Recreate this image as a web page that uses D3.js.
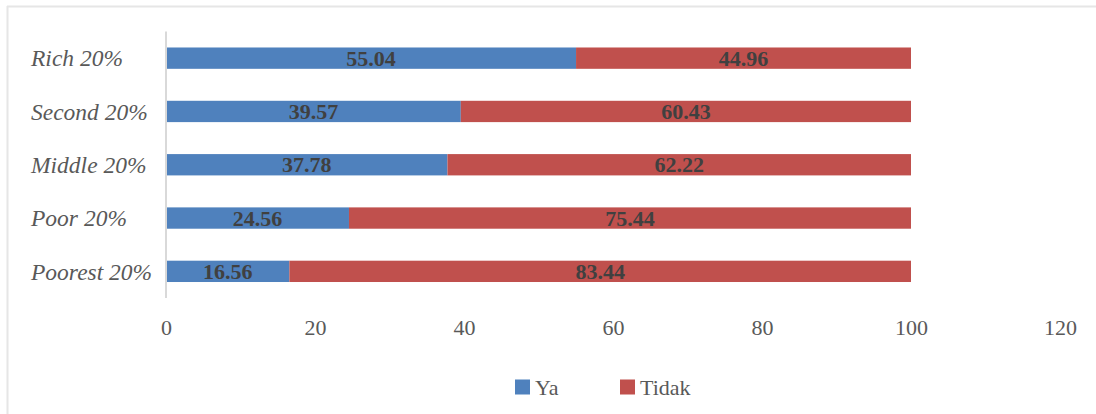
<!DOCTYPE html>
<html>
<head>
<meta charset="utf-8">
<script src="https://cdn.jsdelivr.net/npm/d3@7"></script>
<style>
  html, body { margin: 0; padding: 0; background: #fff; }
  svg { display: block; }
</style>
</head>
<body>
<svg id="chart" width="1096" height="414"></svg>
<script>
// Quintile groups, top to bottom
const categories = ["Rich 20%", "Second 20%", "Middle 20%", "Poor 20%", "Poorest 20%"];
const yaValues = [55.04, 39.57, 37.78, 24.56, 16.56];
const tidakValues = [44.96, 60.43, 62.22, 75.44, 83.44];
const seriesNames = ["Ya", "Tidak"];
const seriesColors = ["#4f81bd", "#c0504d"];
const xTicks = [0, 20, 40, 60, 80, 100, 120];

const serif = "'Liberation Serif', 'Times New Roman', serif";
const svg = d3.select("#chart");
const W = 1096, H = 414;

// light frame along top and left edges
svg.append("line").attr("x1", 7).attr("x2", W).attr("y1", 6.5).attr("y2", 6.5)
  .attr("stroke", "#e6e6e6").attr("stroke-width", 2);
svg.append("line").attr("x1", 7.5).attr("x2", 7.5).attr("y1", 6).attr("y2", H)
  .attr("stroke", "#e6e6e6").attr("stroke-width", 2);

const x = d3.scaleLinear().domain([0, 120]).range([166, 1060]);
const y = d3.scaleBand().domain(categories).range([31.5, 298]).paddingInner(0.6).paddingOuter(0.3);

const rows = categories.map((c, i) => ({ cat: c, vals: [yaValues[i], tidakValues[i]] }));
const stack = d3.stack().keys([0, 1]).value((d, k) => d.vals[k]);
const layers = stack(rows);

const g = svg.append("g");
layers.forEach((layer, k) => {
  g.selectAll(null).data(layer).enter().append("rect")
    .attr("x", d => x(d[0]))
    .attr("width", d => x(d[1]) - x(d[0]))
    .attr("y", d => y(d.data.cat))
    .attr("height", y.bandwidth())
    .attr("fill", seriesColors[k]);
});

// value labels centred in each segment
layers.forEach((layer, k) => {
  g.selectAll(null).data(layer).enter().append("text")
    .attr("x", d => (x(d[0]) + x(d[1])) / 2)
    .attr("y", d => y(d.data.cat) + y.bandwidth() / 2)
    .attr("dy", "0.35em")
    .attr("text-anchor", "middle")
    .attr("font-family", serif)
    .attr("font-weight", "bold")
    .attr("font-size", 22)
    .attr("fill", "#404040")
    .text(d => d.data.vals[k].toFixed(2));
});

// vertical category axis line
svg.append("line").attr("x1", x(0)).attr("x2", x(0))
  .attr("y1", 31.5).attr("y2", 298)
  .attr("stroke", "#d9d9d9").attr("stroke-width", 2);

// category labels
svg.append("g").selectAll("text").data(categories).enter().append("text")
  .attr("x", 31)
  .attr("y", d => y(d) + y.bandwidth() / 2)
  .attr("dy", "0.35em")
  .attr("font-family", serif)
  .attr("font-style", "italic")
  .attr("font-size", 23.5)
  .attr("fill", "#595959")
  .text(d => d);

// value axis
const xAxis = d3.axisBottom(x).tickValues(xTicks).tickSize(0).tickPadding(0);
const ax = svg.append("g").attr("transform", "translate(0,327)").call(xAxis);
ax.select(".domain").remove();
ax.selectAll("text")
  .attr("y", 0)
  .attr("dy", "0.35em")
  .attr("font-family", serif)
  .attr("font-size", 22)
  .attr("fill", "#595959");

// legend
const legend = svg.append("g");
const legendX = [515, 620];
seriesNames.forEach((name, k) => {
  legend.append("rect").attr("x", legendX[k]).attr("y", 379.5).attr("width", 15).attr("height", 15)
    .attr("fill", seriesColors[k]);
  legend.append("text").attr("x", legendX[k] + 20).attr("y", 387).attr("dy", "0.35em")
    .attr("font-family", serif)
    .attr("font-size", 22)
    .attr("fill", "#595959")
    .text(name);
});
</script>
</body>
</html>
